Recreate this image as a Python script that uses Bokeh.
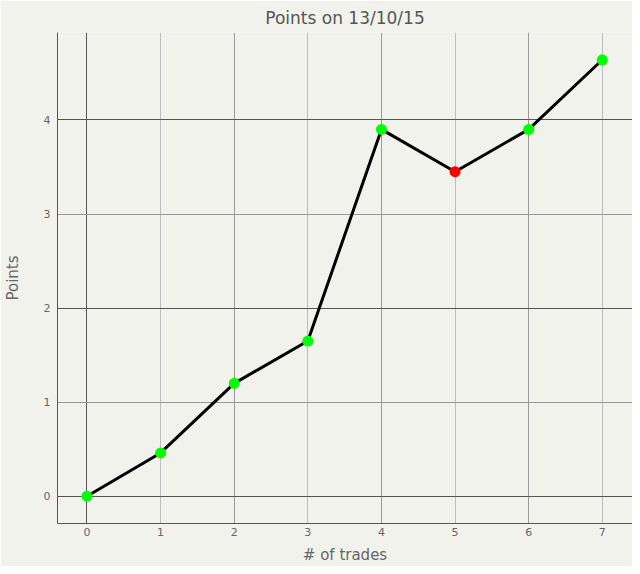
from bokeh.plotting import figure
from bokeh.models import Grid, FixedTicker, Range1d, ColumnDataSource, Title
from bokeh.embed import file_html
from bokeh.resources import INLINE

trades = [0, 1, 2, 3, 4, 5, 6, 7]
points = [0.0, 0.46, 1.2, 1.65, 3.9, 3.45, 3.9, 4.64]
colors = ["#00ff00", "#00ff00", "#00ff00", "#00ff00", "#00ff00", "#ff0000", "#00ff00", "#00ff00"]
x_ticks = [0, 1, 2, 3, 4, 5, 6, 7]
y_ticks = [0, 1, 2, 3, 4]

BG = "#f2f2ed"
FONT = "DejaVu Sans"
TXT = "#666666"

p = figure(width=632, height=566, output_backend="svg", toolbar_location=None,
           x_range=Range1d(-0.4, 7.41), y_range=Range1d(-0.29, 4.93),
           min_border_left=57, min_border_right=0, min_border_top=23, min_border_bottom=42)
p.background_fill_color = BG
p.border_fill_color = BG
p.outline_line_color = None

p.title = Title(text="Points on 13/10/15", align="center", text_font=FONT,
                text_font_size="17px", text_font_style="normal", text_color="#555555")

p.xgrid.visible = False
p.ygrid.visible = False

def add_grid(dim, ticks, color):
    g = Grid(dimension=dim, ticker=FixedTicker(ticks=ticks), grid_line_color=color, grid_line_width=1)
    p.add_layout(g)

add_grid(0, [1, 3, 5, 7], "#bdbdbd")
add_grid(0, [2, 4, 6], "#9a9a9a")
add_grid(0, [0], "#555555")
add_grid(1, [1, 3], "#999999")
add_grid(1, [0, 2, 4], "#555555")

for ax in (p.xaxis[0], p.yaxis[0]):
    ax.major_tick_in = 0
    ax.major_tick_out = 0
    ax.minor_tick_in = 0
    ax.minor_tick_out = 0
    ax.axis_line_color = "#555555"
    ax.major_label_text_font = FONT
    ax.major_label_text_font_size = "11px"
    ax.major_label_text_color = TXT
    ax.axis_label_text_font = FONT
    ax.axis_label_text_font_size = "15px"
    ax.axis_label_text_font_style = "normal"
    ax.axis_label_text_color = TXT

p.xaxis[0].ticker = FixedTicker(ticks=x_ticks)
p.yaxis[0].ticker = FixedTicker(ticks=y_ticks)
p.xaxis[0].axis_label = "# of trades"
p.yaxis[0].axis_label = "Points"
p.xaxis[0].major_label_standoff = 4
p.yaxis[0].major_label_standoff = 7
p.xaxis[0].axis_label_standoff = 7
p.yaxis[0].axis_label_standoff = 19

src = ColumnDataSource(dict(x=trades, y=points, c=colors))
p.line("x", "y", source=src, line_color="black", line_width=3)
p.scatter("x", "y", source=src, size=11, fill_color="c", line_color=None)

open("out.html", "w").write(file_html(p, INLINE))
